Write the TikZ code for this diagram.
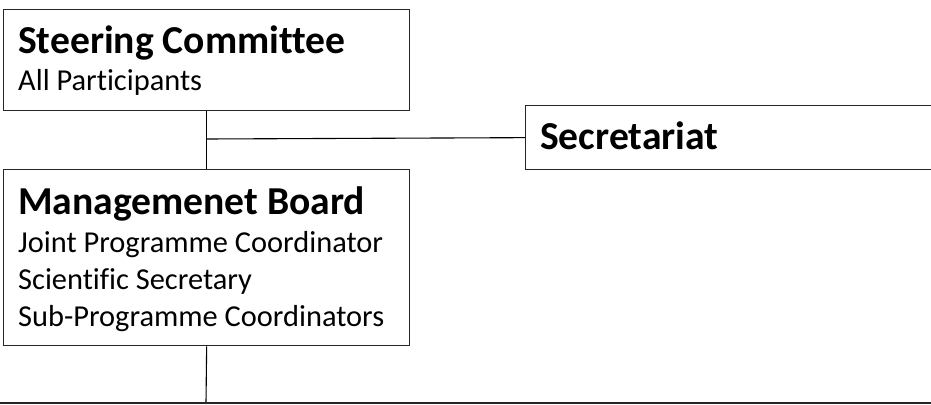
\documentclass[tikz,border=0pt]{standalone}
\usepackage{fontspec}
\setmainfont{Carlito}[Ligatures={NoCommon}]
\begin{document}
\begin{tikzpicture}[x=1pt,y=-1pt,
  box/.style={draw=black!85,line width=1.3pt,rectangle,inner sep=0pt,anchor=north west},
  ttl/.style={anchor=base west,inner sep=0pt,font=\fontsize{39.6}{47}\selectfont\bfseries},
  txt/.style={anchor=base west,inner sep=0pt,font=\fontsize{30.4}{37}\selectfont},
  conn/.style={draw=black,line width=1.1pt}]
\useasboundingbox (0,0) rectangle (931,404);
\clip (0,0) rectangle (931,404);
% boxes
\node[box,minimum width=406pt,minimum height=101pt] (sc) at (3,9) {};
\node[box,minimum width=420pt,minimum height=64pt] (sec) at (525,105) {};
\node[box,minimum width=406pt,minimum height=176pt] (mb) at (3,169) {};
% texts
\node[ttl] (sct) at (18,54) {Steering Committee};
\node[txt] (sc1) at (18,90) {All Participants};
\node[ttl] (sect) at (540,149) {Secretariat};
\node[ttl] (mbt) at (18,214) {Managemenet Board};
\node[txt] (mb1) at (18,252) {Joint Programme Coordinator};
\node[txt] (mb2) at (18,289) {Scientific Secretary};
\node[txt] (mb3) at (18,326) {Sub-Programme Coordinators};
% connectors
\coordinate (j) at (206,139);
\coordinate (bj) at (206,403);
\coordinate (bl) at (0,403);
\coordinate (br) at (931,403);
\draw[conn] (sc.south) -- (mb.north);
\draw[conn] (j) -- (sec.west);
\draw[conn] (mb.south) -- (bj);
\draw[draw=black!85,line width=1.3pt] (bl) -- (br);
\end{tikzpicture}
\end{document}
